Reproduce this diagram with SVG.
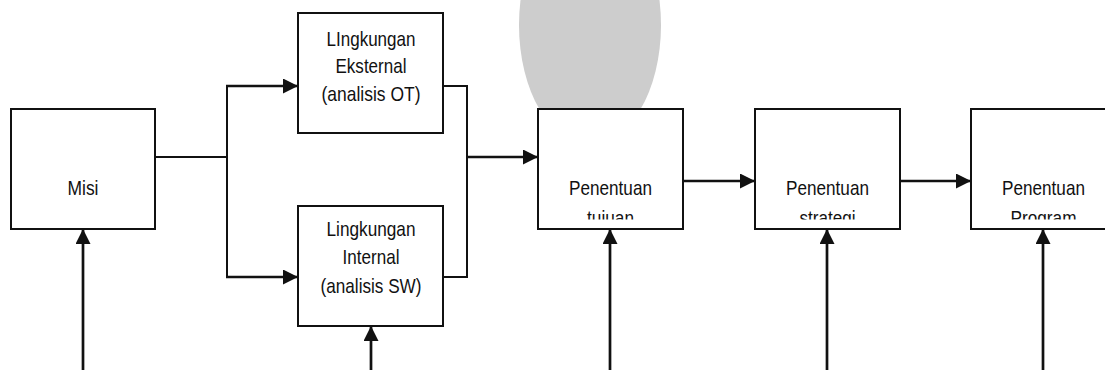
<svg xmlns="http://www.w3.org/2000/svg" width="1105" height="370" viewBox="0 0 1105 370">
  <style>
    .box { fill: #ffffff; stroke: #111111; stroke-width: 2; }
    .lbl { font-family: "Liberation Sans", Arial, sans-serif; font-size: 21px; fill: #111111; text-anchor: middle; }
    .ln { fill: none; stroke: #111111; stroke-width: 2; }
    .ar { fill: none; stroke: #111111; stroke-width: 2.7; marker-end: url(#ah); }
  </style>
  <defs>
    <marker id="ah" markerUnits="userSpaceOnUse" markerWidth="16" markerHeight="16" refX="15" refY="7.5" orient="auto">
      <path d="M0,0 L15,7.5 L0,15 Z" fill="#111111"/>
    </marker>
    <clipPath id="c-tuj"><rect x="538" y="109" width="145" height="110.5"/></clipPath>
    <clipPath id="c-str"><rect x="755" y="109" width="145" height="110.5"/></clipPath>
    <clipPath id="c-prg"><rect x="971" y="109" width="145" height="110.5"/></clipPath>
  </defs>

  <ellipse id="watermark" cx="590" cy="25" rx="71" ry="120" fill="#cdcdcd"/>

  <g id="connectors">
    <line class="ln" x1="155" y1="157" x2="227" y2="157"/>
    <line class="ln" x1="227" y1="86" x2="227" y2="277"/>
    <line class="ar" x1="226" y1="86" x2="298" y2="86"/>
    <line class="ar" x1="226" y1="277" x2="298" y2="277"/>
    <line class="ln" x1="443" y1="86" x2="468" y2="86"/>
    <line class="ln" x1="443" y1="277" x2="468" y2="277"/>
    <line class="ln" x1="467" y1="86" x2="467" y2="277"/>
    <line class="ar" x1="467" y1="157" x2="538" y2="157"/>
    <line class="ar" x1="683" y1="181" x2="755" y2="181"/>
    <line class="ar" x1="900" y1="181" x2="971" y2="181"/>
    <line class="ar" x1="83" y1="370" x2="83" y2="229"/>
    <line class="ar" x1="371" y1="370" x2="371" y2="326"/>
    <line class="ar" x1="610" y1="370" x2="610" y2="229"/>
    <line class="ar" x1="827" y1="370" x2="827" y2="229"/>
    <line class="ar" x1="1043" y1="370" x2="1043" y2="229"/>
  </g>

  <g id="misi">
    <rect class="box" x="11" y="109" width="144" height="120"/>
    <text class="lbl" x="83" y="195" textLength="31" lengthAdjust="spacingAndGlyphs">Misi</text>
  </g>

  <g id="eksternal">
    <rect class="box" x="298" y="13" width="145" height="120"/>
    <text class="lbl" x="371" y="46" textLength="89" lengthAdjust="spacingAndGlyphs">LIngkungan</text>
    <text class="lbl" x="371" y="73" textLength="71" lengthAdjust="spacingAndGlyphs">Eksternal</text>
    <text class="lbl" x="371" y="101" textLength="99" lengthAdjust="spacingAndGlyphs">(analisis OT)</text>
  </g>

  <g id="internal">
    <rect class="box" x="298" y="206" width="145" height="120"/>
    <text class="lbl" x="371" y="236" textLength="89" lengthAdjust="spacingAndGlyphs">Lingkungan</text>
    <text class="lbl" x="371" y="264" textLength="57" lengthAdjust="spacingAndGlyphs">Internal</text>
    <text class="lbl" x="371" y="293" textLength="101" lengthAdjust="spacingAndGlyphs">(analisis SW)</text>
  </g>

  <g id="tujuan">
    <rect class="box" x="538" y="109" width="145" height="120"/>
    <g clip-path="url(#c-tuj)">
      <text class="lbl" x="610.5" y="195" textLength="83" lengthAdjust="spacingAndGlyphs">Penentuan</text>
      <text class="lbl" x="610.5" y="225" textLength="47" lengthAdjust="spacingAndGlyphs">tujuan</text>
    </g>
  </g>

  <g id="strategi">
    <rect class="box" x="755" y="109" width="145" height="120"/>
    <g clip-path="url(#c-str)">
      <text class="lbl" x="827.5" y="195" textLength="83" lengthAdjust="spacingAndGlyphs">Penentuan</text>
      <text class="lbl" x="827.5" y="225" textLength="56" lengthAdjust="spacingAndGlyphs">strategi</text>
    </g>
  </g>

  <g id="program">
    <rect class="box" x="971" y="109" width="145" height="120"/>
    <g clip-path="url(#c-prg)">
      <text class="lbl" x="1043.5" y="195" textLength="83" lengthAdjust="spacingAndGlyphs">Penentuan</text>
      <text class="lbl" x="1043.5" y="225" textLength="66" lengthAdjust="spacingAndGlyphs">Program</text>
    </g>
  </g>
</svg>
